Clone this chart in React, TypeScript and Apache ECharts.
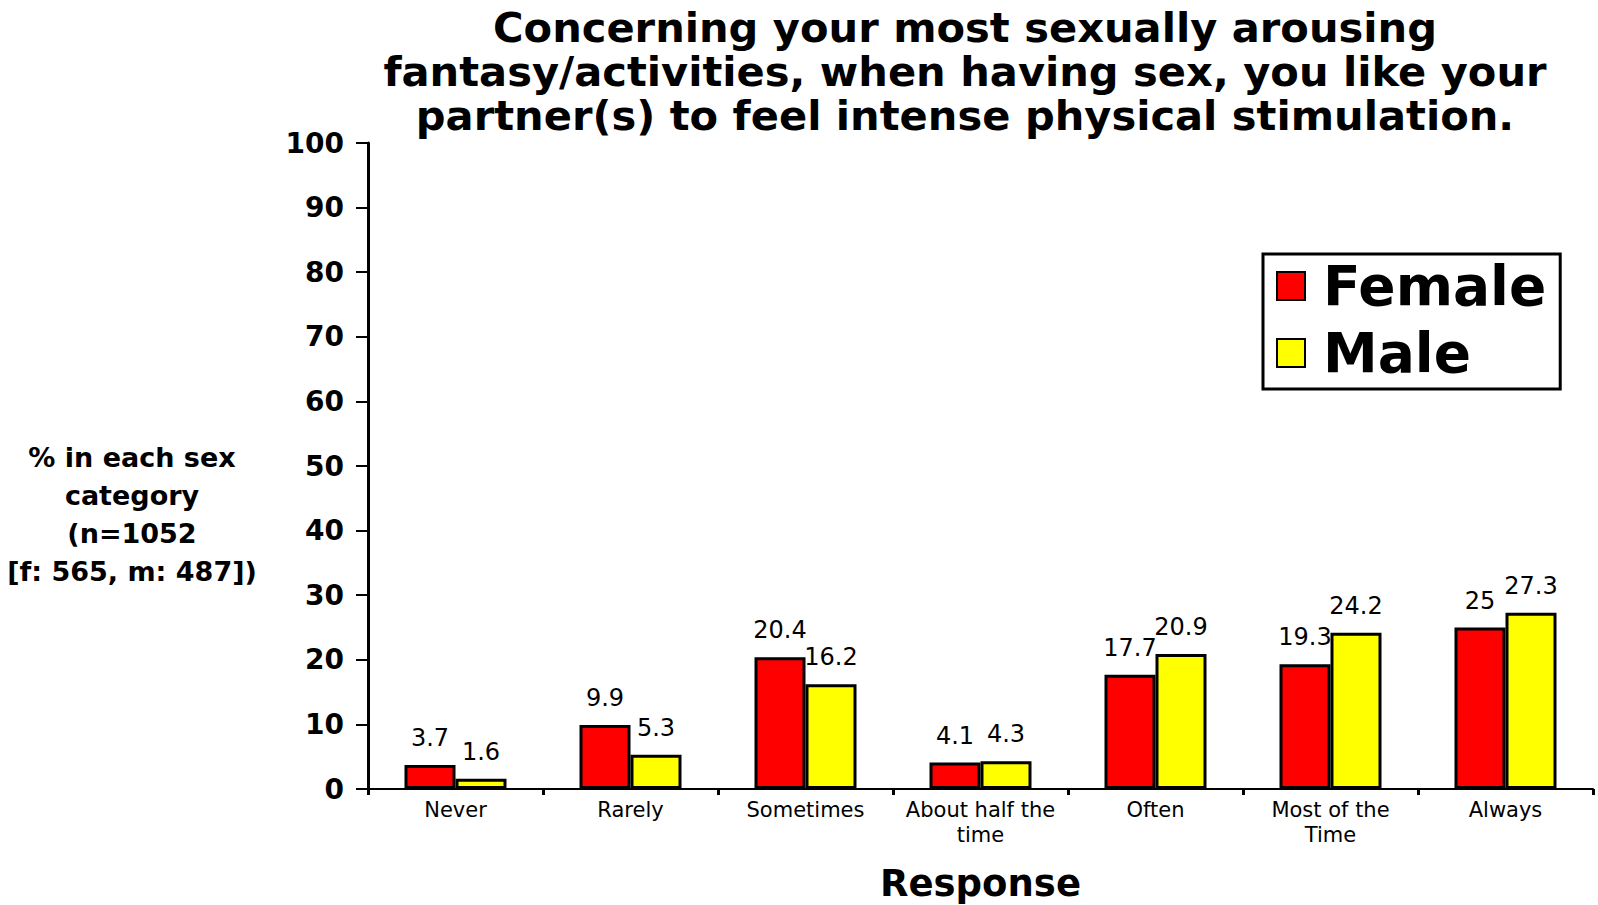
import React, { useEffect, useRef } from "react";
import * as echarts from "echarts";

const categories = ["Never", "Rarely", "Sometimes", "About half the\ntime", "Often", "Most of the\nTime", "Always"];
const femaleValues = [3.7, 9.9, 20.4, 4.1, 17.7, 19.3, 25];
const maleValues = [1.6, 5.3, 16.2, 4.3, 20.9, 24.2, 27.3];
const titleText = "Concerning your most sexually arousing\nfantasy/activities, when having sex, you like your\npartner(s) to feel intense physical stimulation.";
const yAxisTitle = "% in each sex\ncategory\n(n=1052\n[f: 565, m: 487])";
const xAxisTitle = "Response";

const FONT = "DejaVu Sans";

export default function App() {
  const ref = useRef<HTMLDivElement>(null);
  useEffect(() => {
    if (!ref.current) return;
    const chart = echarts.init(ref.current, undefined, { renderer: "svg" });
    const labelStyle = {
      show: true,
      position: "top",
      distance: 15,
      color: "#000",
      fontFamily: FONT,
      fontSize: 24,
      formatter: (p: any) => String(p.value),
    };
    chart.setOption({
      animation: false,
      backgroundColor: "#fff",
      title: {
        text: titleText,
        left: 960,
        top: 0,
        textAlign: "center",
        textStyle: {
          fontFamily: FONT,
          fontWeight: "bold",
          fontSize: 41.6,
          lineHeight: 44,
          color: "#000",
        },
      },
      legend: {
        orient: "vertical",
        left: 1263,
        top: 254,
        data: ["Female", "Male"],
        icon: "rect",
        itemWidth: 28,
        itemHeight: 28,
        itemGap: 7,
        padding: [2, 14, 6, 13],
        borderColor: "#000",
        borderWidth: 3,
        textStyle: {
          fontFamily: FONT,
          fontWeight: "bold",
          fontSize: 55,
          lineHeight: 60,
          color: "#000",
          padding: [0, 0, 0, 13],
        },
      },
      graphic: [
        {
          type: "text",
          x: 132,
          y: 514,
          style: {
            text: yAxisTitle,
            fontFamily: FONT,
            fontWeight: "bold",
            fontSize: 27,
            lineHeight: 38,
            fill: "#000",
            align: "center",
            verticalAlign: "middle",
          },
        },
      ],
      grid: { left: 368, right: 5, top: 143, bottom: 116, containLabel: false, outerBoundsMode: "none" },
      xAxis: {
        type: "category",
        data: categories,
        name: xAxisTitle,
        nameLocation: "middle",
        nameGap: 76,
        nameTextStyle: { fontFamily: FONT, fontWeight: "bold", fontSize: 37, color: "#000" },
        axisLine: { lineStyle: { color: "#000", width: 2 } },
        axisTick: { show: true, length: 6, lineStyle: { color: "#000", width: 3 } },
        axisLabel: {
          color: "#000",
          fontFamily: FONT,
          fontSize: 21,
          lineHeight: 25,
          margin: 8,
          interval: 0,
        },
      },
      yAxis: {
        type: "value",
        min: 0,
        max: 100,
        interval: 10,
        splitLine: { show: false },
        axisLine: { show: true, lineStyle: { color: "#000", width: 3 } },
        axisTick: { show: true, length: 12, lineStyle: { color: "#000", width: 2 } },
        axisLabel: {
          color: "#000",
          fontFamily: FONT,
          fontWeight: "bold",
          fontSize: 28,
          margin: 24,
        },
      },
      series: [
        {
          name: "Female",
          type: "bar",
          data: femaleValues,
          barWidth: 51,
          barGap: "0%",
          itemStyle: { color: "#ff0000", borderColor: "#000", borderWidth: 3 },
          label: labelStyle,
        },
        {
          name: "Male",
          type: "bar",
          data: maleValues,
          barWidth: 51,
          barGap: "0%",
          itemStyle: { color: "#ffff00", borderColor: "#000", borderWidth: 3 },
          label: labelStyle,
        },
      ],
    });
    return () => chart.dispose();
  }, []);
  return <div ref={ref} style={{ width: 1598, height: 905, position: "absolute", left: 0, top: 0 }} />;
}
